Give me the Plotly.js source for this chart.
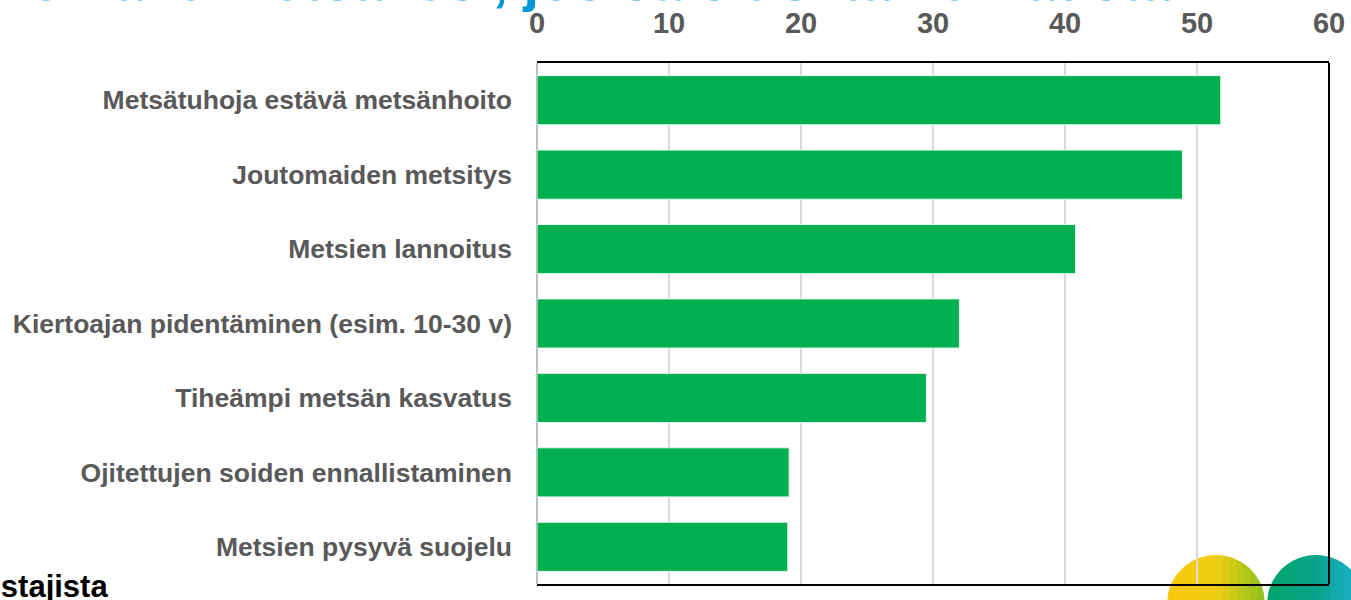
<!DOCTYPE html>
<html>
<head>
<meta charset="utf-8">
<script src="https://cdn.plot.ly/plotly-3.0.1.min.js"></script>
<style>html,body{margin:0;padding:0;background:#fff;}#chart{width:1351px;height:600px;}</style>
</head>
<body>
<div id="chart"></div>
<script>
// Data
const categories = [
  "Metsätuhoja estävä metsänhoito",
  "Joutomaiden metsitys",
  "Metsien lannoitus",
  "Kiertoajan pidentäminen (esim. 10-30 v)",
  "Tiheämpi metsän kasvatus",
  "Ojitettujen soiden ennallistaminen",
  "Metsien pysyvä suojelu"
];
const values = [51.8, 48.9, 40.8, 32.0, 29.5, 19.1, 19.0];
const tickValues = [0, 10, 20, 30, 40, 50, 60];
const titleText = "Mitä toimenpiteitä olisit valmis tekemään omalle metsällesi, jos saisit siitä korvausta?";
const footText = "% metsänomistajista";

const FONT = '"Liberation Sans", Arial, sans-serif';

// decorative circles built from vertical slices (gradient imitation)
function lerp(a,b,t){return Math.round(a+(b-a)*t);}
function hex(c){return [parseInt(c.slice(1,3),16),parseInt(c.slice(3,5),16),parseInt(c.slice(5,7),16)];}
function mix(c1,c2,t){const a=hex(c1),b=hex(c2);return `rgb(${lerp(a[0],b[0],t)},${lerp(a[1],b[1],t)},${lerp(a[2],b[2],t)})`;}
function circleSlices(cxPaper, cyPaper, r, cLeft, cMid, cRight, n){
  const out=[];
  for(let i=0;i<n;i++){
    const a=-r+2*r*i/n, b=-r+2*r*(i+1)/n;
    const pts=[];
    const steps=6;
    for(let k=0;k<=steps;k++){const x=a+(b-a)*k/steps; pts.push([x, Math.sqrt(Math.max(0,r*r-x*x))]);}
    for(let k=steps;k>=0;k--){const x=a+(b-a)*k/steps; pts.push([x, -Math.sqrt(Math.max(0,r*r-x*x))]);}
    const path='M'+pts.map(p=>p[0].toFixed(2)+','+p[1].toFixed(2)).join('L')+'Z';
    const t=(i+0.5)/n;
    const col = t<0.5 ? mix(cLeft,cMid,t*2) : mix(cMid,cRight,(t-0.5)*2);
    out.push({type:'path', xref:'paper', yref:'paper', xsizemode:'pixel', ysizemode:'pixel',
      xanchor:cxPaper, yanchor:cyPaper, path:path, fillcolor:col, line:{width:0}, layer:'below'});
  }
  return out;
}
const L=537, R=1329, T=63, B=584;
const px2x = p => (p-L)/(R-L);
const py2y = p => (B-p)/(B-T);

const shapes = []
  .concat(circleSlices(px2x(1216), py2y(604), 49, '#f8c90a', '#f2cc12', '#8cc21f', 14))
  .concat(circleSlices(px2x(1316), py2y(604), 49, '#00a36a', '#05a48a', '#22b3dc', 14));
// right border (black) ; left axis line is grey via zeroline
shapes.push({type:'line', xref:'paper', yref:'paper', x0:1, x1:1, y0:0, y1:1, line:{color:'#000', width:2}, layer:'above'});

const trace = {
  type:'bar', orientation:'h', x: values, y: categories,
  marker:{color:'#00b050', line:{color:'#e8f6ec', width:1}},
  hoverinfo:'x+y'
};

const layout = {
  width:1351, height:600,
  margin:{l:L, r:1351-R, t:T, b:600-B},
  paper_bgcolor:'#ffffff', plot_bgcolor:'rgba(0,0,0,0)',
  showlegend:false,
  bargap:0.34,
  font:{family:FONT},
  xaxis:{
    side:'top', range:[0,60], tickvals:tickValues, ticktext:tickValues.map(String),
    showgrid:true, gridcolor:'#d9d9d9', gridwidth:2,
    zeroline:true, zerolinecolor:'#bfbfbf', zerolinewidth:2,
    showline:true, mirror:true, linecolor:'#000', linewidth:2,
    ticks:'', ticklabelstandoff:16,
    tickfont:{family:FONT, size:29, color:'#595959', weight:'bold'},
    fixedrange:true
  },
  yaxis:{
    type:'category', autorange:'reversed', showgrid:false, zeroline:false, showline:false,
    ticks:'', ticklabelstandoff:24,
    tickfont:{family:FONT, size:26.5, color:'#595959', weight:'bold'},
    fixedrange:true
  },
  shapes: shapes,
  annotations:[
    {text:'<b>'+titleText+'</b>', xref:'paper', yref:'paper', x:px2x(1207), y:1, xanchor:'right', yanchor:'bottom',
     yshift:49, showarrow:false, font:{family:FONT, size:56, color:'#0096d6'}},
    {text:'<b>'+footText+'</b>', xref:'paper', yref:'paper', x:px2x(110), y:0, xanchor:'right', yanchor:'top',
     yshift:17, showarrow:false, font:{family:FONT, size:31, color:'#000'}}
  ]
};

Plotly.newPlot('chart', [trace], layout, {displayModeBar:false, staticPlot:true});
</script>
</body>
</html>
